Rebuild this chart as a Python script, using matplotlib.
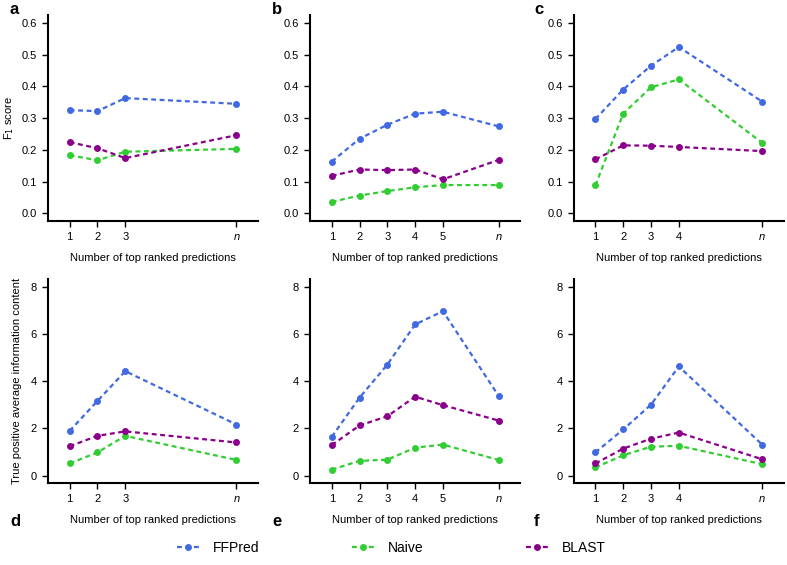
import numpy as np
import matplotlib.pyplot as plt

plt.rcParams['font.family'] = ['Liberation Sans', 'DejaVu Sans']

# x positions: 1..k then "n" placed at 7
n_pos = 7
ks = [3, 5, 4]

# F1 score (top row)
f1_ffpred = [[0.325, 0.322, 0.363, 0.345],
             [0.163, 0.235, 0.279, 0.314, 0.320, 0.274],
             [0.297, 0.390, 0.465, 0.524, 0.352]]
f1_naive = [[0.183, 0.167, 0.194, 0.203],
            [0.036, 0.056, 0.070, 0.082, 0.089, 0.089],
            [0.088, 0.314, 0.397, 0.422, 0.222]]
f1_blast = [[0.224, 0.205, 0.174, 0.246],
            [0.118, 0.138, 0.136, 0.138, 0.107, 0.168],
            [0.170, 0.214, 0.213, 0.209, 0.196]]

# true positive average information content (bottom row)
ic_ffpred = [[1.89, 3.16, 4.42, 2.16],
             [1.64, 3.30, 4.70, 6.40, 6.96, 3.38],
             [0.98, 1.95, 3.00, 4.62, 1.31]]
ic_naive = [[0.51, 0.98, 1.68, 0.66],
            [0.25, 0.62, 0.67, 1.18, 1.31, 0.66],
            [0.34, 0.86, 1.22, 1.26, 0.48]]
ic_blast = [[1.24, 1.68, 1.87, 1.40],
            [1.29, 2.12, 2.51, 3.34, 2.98, 2.33],
            [0.51, 1.14, 1.56, 1.82, 0.69]]

names = ['FFPred', 'Naive', 'BLAST']
colors = ['#4169E1', '#32CD32', '#8B008B']
letters = ['a', 'b', 'c', 'd', 'e', 'f']

fig = plt.figure(figsize=(7.87, 5.65), dpi=100)

lefts = [0.061, 0.394, 0.729]
width = 0.267
bottoms = [0.609, 0.145]
heights = [0.364, 0.361]

dash = (0, (2.2, 1.6))
fs = 8

for row in range(2):
    for col in range(3):
        ax = fig.add_axes([lefts[col], bottoms[row], width, heights[row]])
        k = ks[col]
        x = list(range(1, k + 1)) + [n_pos]
        if row == 0:
            data = [f1_ffpred[col], f1_naive[col], f1_blast[col]]
        else:
            data = [ic_ffpred[col], ic_naive[col], ic_blast[col]]
        for d, c in zip(data, colors):
            ax.plot(x, d, linestyle=dash, color=c, lw=1.6, marker='o', ms=5,
                    markeredgewidth=0)
        ax.set_xlim(0.22, 7.78)
        if row == 0:
            ax.set_ylim(-0.024, 0.624)
            ax.set_yticks(np.arange(0, 0.61, 0.1))
            ax.set_yticklabels(['%.1f' % v for v in np.arange(0, 0.61, 0.1)])
        else:
            ax.set_ylim(-0.32, 8.32)
            ax.set_yticks([0, 2, 4, 6, 8])
        ax.set_xticks(x)
        ax.set_xticklabels([str(i) for i in range(1, k + 1)] + ['n'])
        ax.get_xticklabels()[-1].set_style('italic')
        for s in ['top', 'right']:
            ax.spines[s].set_visible(False)
        for s in ['left', 'bottom']:
            ax.spines[s].set_linewidth(1.5)
        ax.tick_params(direction='out', length=4, width=1, labelsize=fs, pad=4)
        ax.set_xlabel('Number of top ranked predictions', fontsize=fs, labelpad=8)
        if col == 0:
            if row == 0:
                ax.set_ylabel('F$_1$ score', fontsize=fs, labelpad=4)
            else:
                ax.set_ylabel('True positive average information content', fontsize=fs,
                              labelpad=6)

# panel letters
for i, lt in enumerate(letters[:3]):
    fig.text((10 + 262 * i) / 787, 1 - 9 / 565, lt, fontsize=12, fontweight='bold',
             ha='left', va='center')
for i, lt in enumerate(letters[3:]):
    fig.text((10 + 262 * i) / 787, 1 - 522 / 565, lt, fontsize=12, fontweight='bold',
             ha='left', va='center')

# legend, one entry each so they sit evenly spaced
leg_x = [177, 352, 526]
for name, c, lx in zip(names, colors, leg_x):
    h = plt.Line2D([], [], linestyle=dash, color=c, lw=1.6, marker='o', ms=5,
                   markeredgewidth=0)
    fig.legend([h], [name], loc='center left', bbox_to_anchor=(lx / 787, 1 - 548 / 565),
               frameon=False, fontsize=10, handlelength=1.6, handletextpad=1.0,
               borderpad=0, borderaxespad=0)

fig.savefig('out.png', dpi=100)
